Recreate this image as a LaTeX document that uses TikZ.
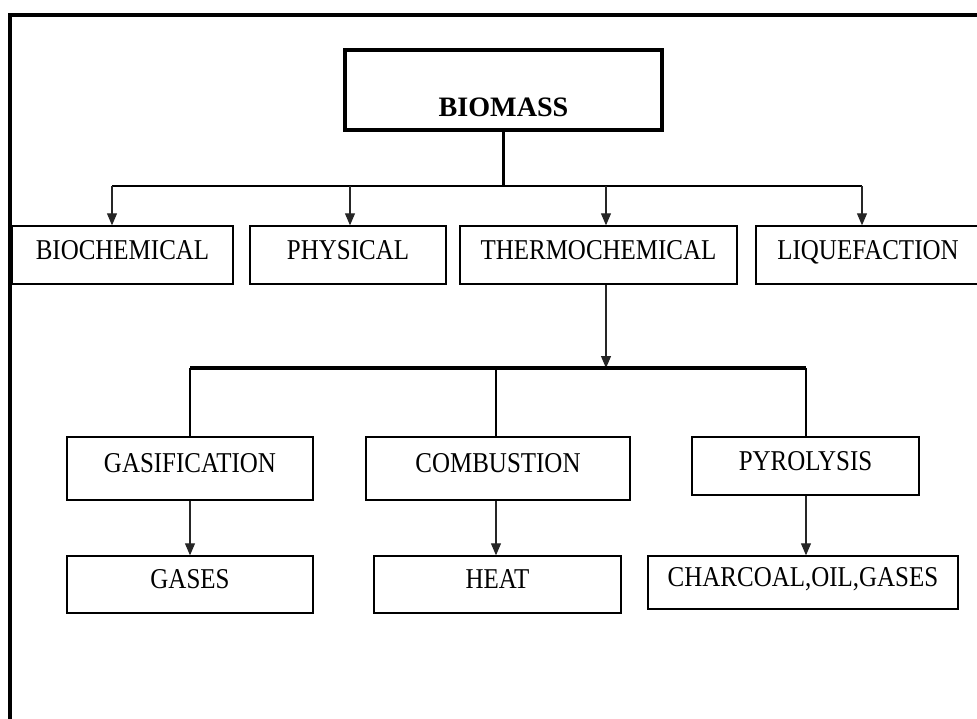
\documentclass[tikz,border=0pt]{standalone}
\usepackage{fontspec}
\setmainfont{Liberation Serif}
\newfontfamily\narrowserif[FakeStretch=0.87]{Liberation Serif}
\usepackage{tikz}
\usetikzlibrary{positioning,calc,arrows.meta}

\tikzset{
    procbox/.style={draw=black, line width=1.2pt, fill=white, inner sep=0pt,
        font=\narrowserif\fontsize{24.5}{28}\selectfont, text height=0.57cm, text depth=0.33cm},
    flowarrow/.style={-{Triangle[length=0.36cm, width=0.3cm]}, line width=0.9pt, draw=black!85}
}

\begin{document}
\begin{tikzpicture}[
        x=0.03cm, y=-0.03cm,
        % Nút gốc: viền đậm, chữ in đậm nằm thấp trong hộp
        rootbox/.style={
            draw=black,
            line width=2.6pt,
            fill=white,
            inner sep=0pt,
            minimum width=9.51cm,
            minimum height=2.4cm,
            font=\bfseries\fontsize{24}{28}\selectfont,
            text height=1.56cm,
            text depth=0cm
        },
        % Đường nhánh ngang
        busline/.style={line width=2.4pt, draw=black},
        stemline/.style={line width=2pt, draw=black}
    ]

        % --- 0. KHUNG ---
        \useasboundingbox (0,0) rectangle (977,718);
        \fill[white] (0,0) rectangle (977,718);
        \draw[line width=2.6pt] (10,760) -- (10,15) -- (1010,15);

        % --- 1. NÚT GỐC ---
        \node[rootbox] (biomass) at (503.5,90) {BIOMASS};

        % --- 2. HÀNG 1 ---
        \node[procbox, minimum width=6.63cm, minimum height=1.74cm] (bioch) at (122.5,255) {BIOCHEMICAL};
        \node[procbox, minimum width=5.88cm, minimum height=1.74cm] (phys) at (348,255) {PHYSICAL};
        \node[procbox, minimum width=8.31cm, minimum height=1.74cm] (thermo) at (598.5,255) {THERMOCHEMICAL};
        \node[procbox, minimum width=6.72cm, minimum height=1.74cm] (liq) at (868,255) {LIQUEFACTION};

        \coordinate (bus1) at (503.5,186);
        \coordinate (t1) at (112,186);
        \coordinate (t2) at (350,186);
        \coordinate (t3) at (606,186);
        \coordinate (t4) at (862,186);
        \draw[stemline] (biomass.south) -- (bus1);
        \draw[busline] (t1) -- (t4);
        \draw[flowarrow] (t1) -- (t1 |- bioch.north);
        \draw[flowarrow] (t2) -- (t2 |- phys.north);
        \draw[flowarrow] (t3) -- (t3 |- thermo.north);
        \draw[flowarrow] (t4) -- (t4 |- liq.north);

        % --- 3. HÀNG 2 ---
        \node[procbox, minimum width=7.38cm, minimum height=1.89cm] (gasif) at (190,468.5) {GASIFICATION};
        \node[procbox, minimum width=7.92cm, minimum height=1.89cm] (comb) at (498,468.5) {COMBUSTION};
        \node[procbox, minimum width=6.81cm, minimum height=1.74cm] (pyro) at (805.5,466) {PYROLYSIS};

        \coordinate (bus2) at (606,368);
        \coordinate (g1) at (190,368);
        \coordinate (g2) at (496,368);
        \coordinate (g3) at (806,368);
        \draw[flowarrow] (bus2 |- thermo.south) -- (bus2);
        \draw[busline, line width=2.8pt] (g1) -- (g3);
        \draw[stemline] (g1) -- (g1 |- gasif.north);
        \draw[stemline] (g2) -- (g2 |- comb.north);
        \draw[stemline] (g3) -- (g3 |- pyro.north);

        % --- 4. HÀNG 3 ---
        \node[procbox, minimum width=7.38cm, minimum height=1.71cm] (gases) at (190,584.5) {GASES};
        \node[procbox, minimum width=7.41cm, minimum height=1.71cm] (heat) at (497.5,584.5) {HEAT};
        \node[procbox, minimum width=9.3cm, minimum height=1.59cm] (char) at (803,582.5) {CHARCOAL,OIL,GASES};

        \draw[flowarrow] (gasif.south -| g1) -- (gases.north -| g1);
        \draw[flowarrow] (comb.south -| g2) -- (heat.north -| g2);
        \draw[flowarrow] (pyro.south -| g3) -- (char.north -| g3);

    \end{tikzpicture}
\end{document}
